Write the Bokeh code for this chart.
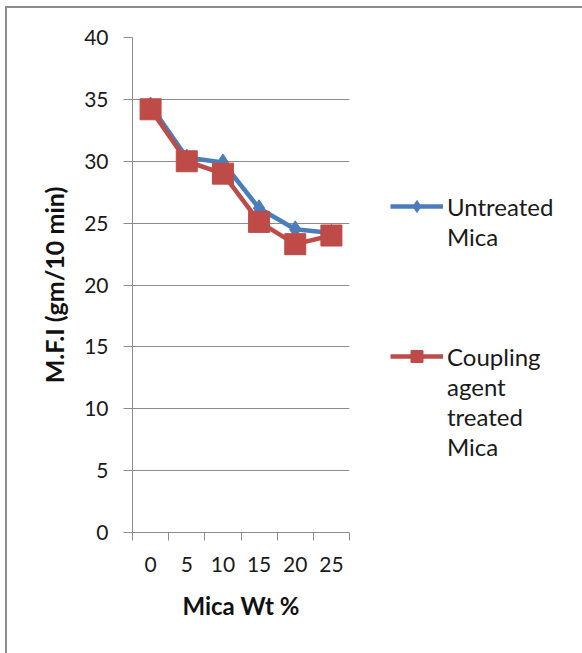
from bokeh.plotting import figure
from bokeh.models import FixedTicker, Legend, LegendItem, Range1d
from bokeh.embed import file_html
from bokeh.resources import INLINE

categories = ["0", "5", "10", "15", "20", "25"]
untreated = [34.5, 30.3, 29.9, 26.2, 24.5, 24.2]
treated = [34.2, 30.0, 29.0, 25.1, 23.3, 24.0]
y_ticks = [0, 5, 10, 15, 20, 25, 30, 35, 40]
legend_lines_1 = ["Untreated", "Mica"]
legend_lines_2 = ["Coupling", "agent", "treated", "Mica"]

xs = [i + 0.5 for i in range(len(categories))]

BLUE = "#4A7EBB"
RED = "#BE4B48"
GRID = "#8C8C8C"
FONT = "Lato"

p = figure(frame_width=217, frame_height=495, output_backend="svg", toolbar_location=None,
           x_range=Range1d(0, len(categories)), y_range=Range1d(0, 40),
           min_border_left=125, min_border_right=233, min_border_top=29, min_border_bottom=121)
p.margin = (6, 0, 0, 5)
p.styles = {"border-top": f"2px solid {GRID}", "border-left": f"2px solid {GRID}"}
p.outline_line_color = None
p.background_fill_color = "white"
p.border_fill_color = "white"

l1 = p.line(xs, untreated, line_color=BLUE, line_width=4.5)
m1 = p.scatter(xs, untreated, marker="diamond", size=17, fill_color=BLUE, line_color=BLUE)
l2 = p.line(xs, treated, line_color=RED, line_width=4.5)
m2 = p.scatter(xs, treated, marker="square", size=21, fill_color=RED, line_color=RED)
dummy = p.line(x=[], y=[], line_alpha=0)

# axes
xa = p.xaxis[0]
xa.ticker = FixedTicker(ticks=xs, minor_ticks=list(range(len(categories) + 1)))
xa.major_label_overrides = {x: c for x, c in zip(xs, categories)}
xa.major_tick_line_color = None
xa.major_tick_out = 8
xa.minor_tick_out = 8
xa.minor_tick_in = 0
xa.minor_tick_line_color = GRID
xa.axis_line_color = GRID
xa.major_label_text_font = FONT
xa.major_label_text_font_size = "21px"
xa.major_label_text_color = "#1a1a1a"
xa.major_label_standoff = 16
xa.axis_label = "Mica Wt %"
xa.axis_label_text_font = FONT
xa.axis_label_text_font_style = "bold"
xa.axis_label_text_font_size = "24px"
xa.axis_label_text_color = "#111111"
xa.axis_label_standoff = 16

ya = p.yaxis[0]
ya.ticker = FixedTicker(ticks=y_ticks)
ya.minor_tick_line_color = None
ya.major_tick_out = 9
ya.major_tick_in = 0
ya.major_tick_line_color = GRID
ya.axis_line_color = GRID
ya.major_label_text_font = FONT
ya.major_label_text_font_size = "21px"
ya.major_label_text_color = "#1a1a1a"
ya.major_label_standoff = 15
ya.axis_label = "M.F.I (gm/10 min)"
ya.axis_label_text_font = FONT
ya.axis_label_text_font_style = "bold"
ya.axis_label_text_font_size = "25px"
ya.axis_label_text_color = "#111111"
ya.axis_label_standoff = 12

p.xgrid.grid_line_color = None
p.ygrid.grid_line_color = GRID
p.ygrid.grid_line_width = 1

items = [LegendItem(label=legend_lines_1[0], renderers=[l1, m1])]
items += [LegendItem(label=t, renderers=[dummy]) for t in legend_lines_1[1:]]
items += [LegendItem(label="", renderers=[dummy]) for _ in range(3)]
items += [LegendItem(label=legend_lines_2[0], renderers=[l2, m2])]
items += [LegendItem(label=t, renderers=[dummy]) for t in legend_lines_2[1:]]

lg = Legend(items=items, location=(41, 71), orientation="vertical")
lg.border_line_color = None
lg.background_fill_alpha = 0
lg.label_text_font = FONT
lg.label_text_font_size = "24px"
lg.label_text_color = "#1a1a1a"
lg.glyph_width = 53
lg.glyph_height = 30
lg.label_height = 30
lg.label_standoff = 4
lg.spacing = 0
lg.padding = 0
lg.margin = 0
p.add_layout(lg, "right")

open("out.html", "w").write(file_html(p, INLINE))
